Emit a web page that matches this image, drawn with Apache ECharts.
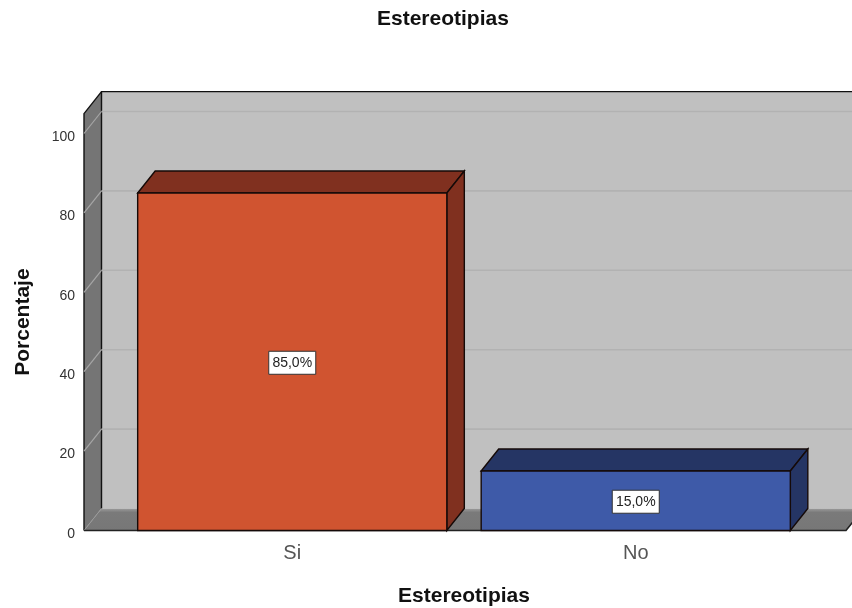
<!DOCTYPE html>
<html>
<head>
<meta charset="utf-8">
<style>html,body{margin:0;padding:0;background:#fff}#c{width:852px;height:608px}</style>
<script src="https://cdn.jsdelivr.net/npm/echarts@6/dist/echarts.min.js"></script>
</head>
<body>
<div id="c"></div>
<script>
const categories = ['Si', 'No'];
const percentages = [85, 15];
const percentLabels = ['85,0%', '15,0%'];
const gridTicks = [0, 20, 40, 60, 80, 100];
const frontColors = ['#d05430', '#3e5aa8'];
const sideColors = ['#80301f', '#253564'];

const DEPTH_X = 17.5, DEPTH_Y = -22, BAR_RATIO = 0.9;
const LEFT_EXT = 36.5, RIGHT_EXT = 38.5;
const FONT = '"Liberation Sans", Arial, sans-serif';

const chart = echarts.init(document.getElementById('c'), null, {renderer: 'canvas'});

function wallsItem(params, api) {
  const cs = params.coordSys;
  const xl = cs.x - LEFT_EXT, xr = cs.x + cs.width + RIGHT_EXT;
  const yt = cs.y, yb = cs.y + cs.height;
  const bxl = xl + DEPTH_X, bxr = xr + DEPTH_X, byb = yb + DEPTH_Y, byt = yt + DEPTH_Y;
  const black = {stroke: '#111', lineWidth: 1.4, fill: null};
  return {type: 'group', children: [
    {type: 'rect', shape: {x: bxl, y: byt, width: bxr - bxl, height: byb - byt}, style: {fill: '#c0c0c0'}},
    {type: 'polygon', shape: {points: [[xl, yb], [bxl, byb], [bxl, byt], [xl, yt]]}, style: {fill: '#757575'}},
    {type: 'polygon', shape: {points: [[xl, yb], [bxl, byb], [bxr, byb], [xr, yb]]},
      style: {fill: new echarts.graphic.LinearGradient(0, 0, 0, 1, [
        {offset: 0, color: '#9c9c9c'}, {offset: 0.18, color: '#7a7a7a'}, {offset: 1, color: '#777777'}])}},
    {type: 'polyline', shape: {points: [[xl, yb], [xl, yt], [bxl, byt], [bxr, byt]]}, style: black},
    {type: 'line', shape: {x1: bxl, y1: byt, x2: bxl, y2: byb}, style: black},
    {type: 'line', shape: {x1: xl, y1: yb, x2: bxl, y2: byb}, style: {stroke: '#999', lineWidth: 1}},
    {type: 'polyline', shape: {points: [[xl, yb], [xr, yb], [bxr, byb]]}, style: {stroke: '#222', lineWidth: 1.6, fill: null}}
  ]};
}

function gridItem(params, api) {
  const v = api.value(0);
  if (v === 0) return {type: 'group', children: []};
  const cs = params.coordSys;
  const y = api.coord([0, v])[1];
  const xl = cs.x - LEFT_EXT, bxl = xl + DEPTH_X, bxr = cs.x + cs.width + RIGHT_EXT + DEPTH_X;
  return {type: 'group', children: [
    {type: 'line', shape: {x1: xl, y1: y, x2: bxl, y2: y + DEPTH_Y}, style: {stroke: '#a6a6a6', lineWidth: 1.2}},
    {type: 'line', shape: {x1: bxl, y1: y + DEPTH_Y, x2: bxr, y2: y + DEPTH_Y}, style: {stroke: '#b2b2b2', lineWidth: 1.6}}
  ]};
}

function barItem(params, api) {
  const i = api.value(0), v = api.value(1);
  const top = api.coord([i, v]), base = api.coord([i, 0]);
  const w = api.size([1, 0])[0] * BAR_RATIO;
  const x0 = top[0] - w / 2, x1 = top[0] + w / 2, yt = top[1], yb = base[1];
  const line = {stroke: '#150a08', lineWidth: 1.4};
  const mid = api.coord([i, v / 2]);
  const boxW = 47, boxH = 23;
  return {type: 'group', children: [
    {type: 'polygon', shape: {points: [[x0, yt], [x0 + DEPTH_X, yt + DEPTH_Y], [x1 + DEPTH_X, yt + DEPTH_Y], [x1, yt]]},
      style: Object.assign({fill: sideColors[i]}, line)},
    {type: 'polygon', shape: {points: [[x1, yt], [x1 + DEPTH_X, yt + DEPTH_Y], [x1 + DEPTH_X, yb + DEPTH_Y], [x1, yb]]},
      style: Object.assign({fill: sideColors[i]}, line)},
    {type: 'rect', shape: {x: x0, y: yt, width: w, height: yb - yt}, style: Object.assign({fill: frontColors[i]}, line)},
    {type: 'rect', shape: {x: mid[0] - boxW / 2, y: mid[1] + 1 - boxH / 2, width: boxW, height: boxH},
      style: {fill: '#fff', stroke: '#333', lineWidth: 1}},
    {type: 'text', x: mid[0], y: mid[1] + 1.5,
      style: {text: percentLabels[i], fill: '#222', font: '14px ' + FONT, align: 'center', verticalAlign: 'middle'}}
  ]};
}

chart.setOption({
  animation: false,
  backgroundColor: '#fff',
  title: {
    text: 'Estereotipias', left: 372, top: 4,
    textStyle: {fontFamily: FONT, fontSize: 21, fontWeight: 'bold', color: '#111'}
  },
  grid: {left: 120.5, right: 852 - 807.5, top: 113.65, bottom: 77.5, containLabel: false, outerBoundsMode: 'none'},
  xAxis: {
    type: 'category', data: categories,
    axisLine: {show: false}, axisTick: {show: false},
    axisLabel: {fontFamily: FONT, fontSize: 20, color: '#555', margin: 13},
    name: 'Estereotipias', nameLocation: 'middle', nameGap: 55,
    nameTextStyle: {fontFamily: FONT, fontSize: 21, fontWeight: 'bold', color: '#111'}
  },
  yAxis: {
    type: 'value', min: 0, max: 105, interval: 20, offset: LEFT_EXT,
    axisLine: {show: false}, axisTick: {show: false}, splitLine: {show: false},
    axisLabel: {fontFamily: FONT, fontSize: 14, color: '#333', margin: 9, showMaxLabel: false, verticalAlign: 'top', padding: [-3.5, 0, 0, 0]},
    name: 'Porcentaje', nameLocation: 'middle', nameGap: 50, nameRotate: 90,
    nameTextStyle: {fontFamily: FONT, fontSize: 21, fontWeight: 'bold', color: '#111'}
  },
  series: [
    {type: 'custom', z: 1, silent: true, renderItem: wallsItem, data: [[0]]},
    {type: 'custom', z: 2, silent: true, renderItem: gridItem, data: gridTicks.map(v => [v]), encode: {y: 0}},
    {type: 'custom', z: 3, silent: true, renderItem: barItem, data: percentages.map((v, i) => [i, v]), encode: {x: 0, y: 1}}
  ]
});
</script>
</body>
</html>
